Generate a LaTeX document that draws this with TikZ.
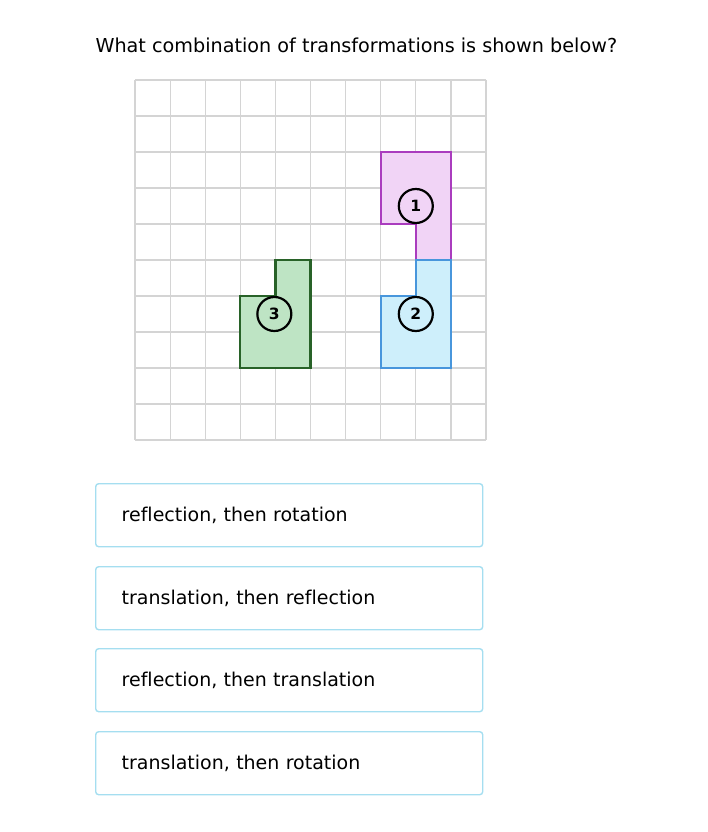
\documentclass[tikz,border=0pt]{standalone}
\usepackage{fontspec}
\setmainfont[Ligatures=NoCommon]{DejaVu Sans}
\usetikzlibrary{calc}

\definecolor{gridgray}{RGB}{212,212,212}
\definecolor{magline}{RGB}{170,60,190}
\definecolor{magfill}{RGB}{241,212,246}
\definecolor{blueline}{RGB}{72,150,220}
\definecolor{bluefill}{RGB}{206,239,251}
\definecolor{greenline}{RGB}{40,98,40}
\definecolor{greenfill}{RGB}{190,228,196}
\definecolor{boxline}{RGB}{165,222,240}

\tikzset{
  gridline/.style={gridgray, line width=1.2pt},
  shapeone/.style={draw=magline, fill=magfill, line width=2.2pt},
  shapetwo/.style={draw=blueline, fill=bluefill, line width=2.2pt},
  shapethree/.style={draw=greenline, fill=greenfill, line width=2.2pt},
  label/.style={circle, draw=black, line width=2.2pt, minimum size=34pt, inner sep=0pt, font=\bfseries\fontsize{15.5}{15.5}\selectfont},
  answer/.style={draw=boxline, line width=1.4pt, rounded corners=3pt, anchor=north west,
    text width=335pt, inner xsep=26pt, minimum height=63pt, align=left, font=\fontsize{19}{19}\selectfont}
}

\begin{document}
\begin{tikzpicture}[x=1pt, y=-1pt]

\useasboundingbox (0,0) rectangle (708,832);

\node[anchor=west, font=\fontsize{19.2}{19.2}\selectfont] (question) at (92,45) {What combination of transformations is shown below?};

% grid
\begin{scope}[shift={(135,80)}, x=35.1pt, y=-36pt]
\foreach \i in {0,...,10} {
  \draw[gridline] (\i,0) -- (\i,10);
  \draw[gridline] (0,\i) -- (10,\i);
}

\draw[shapeone] (7,2) -- (9,2) -- (9,5) -- (8,5) -- (8,4) -- (7,4) -- cycle;
\draw[shapetwo] (8,5) -- (9,5) -- (9,8) -- (7,8) -- (7,6) -- (8,6) -- cycle;
\draw[shapethree] (4,5) -- (5,5) -- (5,8) -- (3,8) -- (3,6) -- (4,6) -- cycle;

\node[label, fill=magfill] (one) at (8,3.5) {1};
\node[label, fill=bluefill] (two) at (8,6.5) {2};
\node[label, fill=greenfill] (three) at (3.97,6.5) {3};
\end{scope}

% answers
\node[answer] (ans1) at (95,483) {reflection, then rotation};
\node[answer] (ans2) at (95,566) {translation, then reflection};
\node[answer] (ans3) at (95,648) {reflection, then translation};
\node[answer] (ans4) at (95,731) {translation, then rotation};

\end{tikzpicture}
\end{document}
